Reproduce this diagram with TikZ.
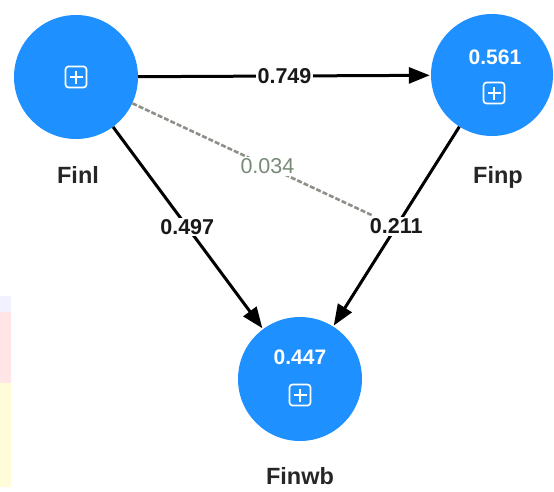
\documentclass[tikz,border=0pt]{standalone}
\usepackage{fontspec}
\setmainfont{Liberation Sans}
\usetikzlibrary{arrows.meta}
\definecolor{nodeblue}{RGB}{30,144,255}
\definecolor{dashgray}{RGB}{140,145,135}
\definecolor{lblgray}{RGB}{120,138,120}
\begin{document}
\begin{tikzpicture}[x=1pt,y=-1pt,
  latent/.style={circle,fill=nodeblue,minimum size=124pt,inner sep=0pt},
  nameLbl/.style={font=\fontsize{23.5}{27}\selectfont\bfseries,text=black!85},
  valLbl/.style={font=\fontsize{21}{25}\selectfont\bfseries,text=white},
  icon/.style={draw=white,line width=1.7pt,rounded corners=3pt,minimum size=21pt,inner sep=0pt},
  path/.style={line width=3pt,-{Triangle[length=21pt,width=16pt]},shorten >=1pt},
  coef/.style={fill=white,inner sep=1.5pt,font=\fontsize{21.5}{25}\selectfont\bfseries,text=black!90},
  dimcoef/.style={fill=white,inner sep=1.5pt,font=\fontsize{21.5}{25}\selectfont,text=lblgray}
]
\useasboundingbox (0,0) rectangle (554,491);
% faint background bands at the left edge
\fill[blue!5!white] (0,296) rectangle (11,312);
\fill[red!10!white] (0,312) rectangle (11,383);
\fill[yellow!15!white] (0,383) rectangle (11,487);

% constructs
\node[latent] (finl) at (76,77) {};
\node[latent,minimum size=122pt] (finp) at (492,75) {};
\node[latent] (finwb) at (300,379) {};

% icons and values
\node[icon] (iconl) at (76,77) {};
\node[icon] (iconp) at (494,93) {};
\node[icon] (iconwb) at (300,395) {};
\foreach \i in {iconl,iconp,iconwb}{
  \draw[white,line width=1.7pt] ([yshift=-6.5pt]\i.center) -- ([yshift=6.5pt]\i.center);
  \draw[white,line width=1.7pt] ([xshift=-6.5pt]\i.center) -- ([xshift=6.5pt]\i.center);
}
\node[valLbl] (valp) at (495,57) {0.561};
\node[valLbl] (valwb) at (300,357) {0.447};

% names
\node[nameLbl] (namel) at (78,175) {Finl};
\node[nameLbl] (namep) at (498,177) {Finp};
\node[nameLbl] (namewb) at (300,476) {Finwb};

% paths
\draw[path] (finl) -- node[coef,pos=0.5] (c749) {0.749} (finp);
\draw[path] (finl) -- node[coef,pos=0.495] (c497) {0.497} (finwb);
\draw[path] (finp) -- node[coef,pos=0.5] (c211) {0.211} (finwb);
\draw[dashgray,line width=2.6pt,dash pattern=on 5pt off 2pt,shorten >=2pt]
  (finl) -- node[dimcoef,pos=0.56] (c034) {0.034} (c211);
\node[coef] at (c211) {0.211};
\end{tikzpicture}
\end{document}
